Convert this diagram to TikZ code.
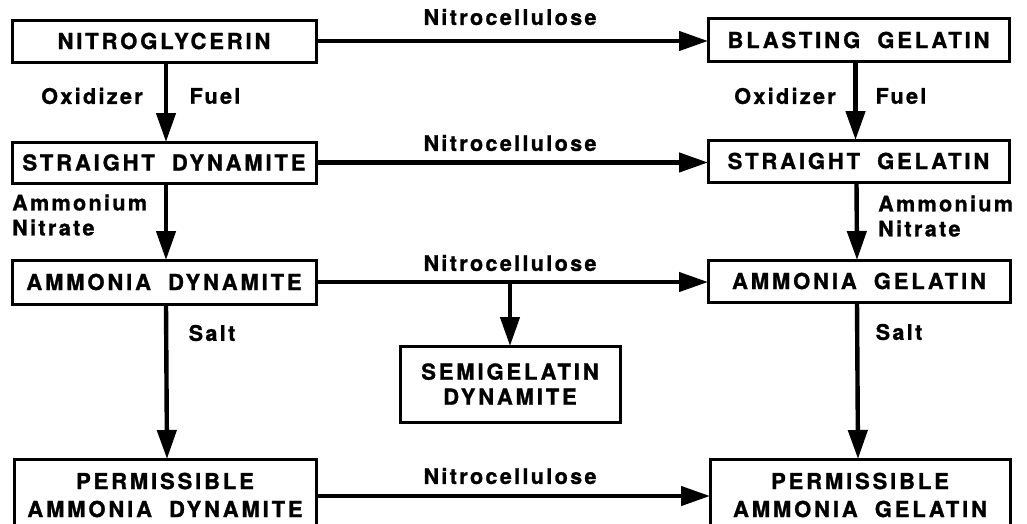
\documentclass[tikz,border=0pt]{standalone}
\usepackage{fontspec}
\setmainfont{TeX Gyre Heros}
\newfontfamily\boxfont{TeX Gyre Heros Bold}[LetterSpace=13, WordSpace=1.9, FakeBold=1.2]
\newfontfamily\labfont{TeX Gyre Heros Bold}[LetterSpace=11, FakeBold=1.2]
\usetikzlibrary{arrows.meta}
\begin{document}
\begin{tikzpicture}[x=1pt,y=-1pt,
  box/.style={draw, line width=3pt, inner sep=0pt, outer sep=0pt, align=center,
    font=\boxfont\fontsize{22}{28}\selectfont},
  lab/.style={inner sep=0pt, font=\labfont\fontsize{21.5}{25}\selectfont},
  arr/.style={line width=4.4pt, -{Triangle[length=29pt,width=19pt]}}]
\useasboundingbox (0,0) rectangle (1027,523);
% left column
\node[box, minimum width=304pt, minimum height=42pt] (n1) at (164,41) {NITROGLYCERIN};
\node[box, minimum width=304pt, minimum height=41pt] (n2) at (164,162.5) {STRAIGHT DYNAMITE};
\node[box, minimum width=304pt, minimum height=44pt] (n3) at (164,282) {AMMONIA DYNAMITE};
\node[box, minimum width=302pt, minimum height=72pt] (n4) at (165,495) {PERMISSIBLE\\AMMONIA DYNAMITE};
% right column
\node[box, minimum width=301pt, minimum height=43pt] (b1) at (858.5,40) {BLASTING GELATIN};
\node[box, minimum width=301pt, minimum height=42pt] (b2) at (858.5,161) {STRAIGHT GELATIN};
\node[box, minimum width=302pt, minimum height=42pt] (b3) at (859,281) {AMMONIA GELATIN};
\node[box, minimum width=300pt, minimum height=72pt] (b4) at (860,495) {PERMISSIBLE\\AMMONIA GELATIN};
% middle
\node[box, minimum width=220pt, minimum height=76pt, font=\boxfont\fontsize{22}{25}\selectfont] (sg) at (510,384) {SEMIGELATIN\\DYNAMITE};
% horizontal connectors
\draw[arr] (n1.east) -- (n1.east -| b1.west);
\draw[arr] (n2.east) -- (n2.east -| b2.west);
\draw[arr] (n3.east) -- (n3.east -| b3.west);
\coordinate (n4r) at ([yshift=-1pt]n4.east);
\draw[arr] (n4r) -- (n4r -| b4.west);
\draw[arr] (n3.east -| sg.north) -- (sg.north);
% vertical connectors
\draw[arr] ([xshift=2pt]n1.south) -- ([xshift=2pt]n2.north);
\draw[arr] ([xshift=2pt]n2.south) -- ([xshift=2pt]n3.north);
\draw[arr] ([xshift=2pt]n3.south) -- ([xshift=2pt]n4.north);
\draw[arr] ([xshift=-3pt]b1.south) -- ([xshift=-3pt]b2.north);
\draw[arr] ([xshift=-2pt]b2.south) -- ([xshift=-2pt]b3.north);
\draw[arr] ([xshift=-2pt]b3.south) -- ([xshift=-2pt]b4.north);
% labels
\node[lab] (t1) at (510,17) {Nitrocellulose};
\node[lab] (t2) at (510,143) {Nitrocellulose};
\node[lab] (t3) at (510,263) {Nitrocellulose};
\node[lab] (t4) at (510,476) {Nitrocellulose};
\node[lab] (ox1) at (92,96) {Oxidizer};
\node[lab] (fu1) at (215,96) {Fuel};
\node[lab] (ox2) at (785,96) {Oxidizer};
\node[lab] (fu2) at (901,96) {Fuel};
\node[lab, anchor=west, align=left, font=\labfont\fontsize{21.5}{25}\selectfont] (am1) at (12,215) {Ammonium\\Nitrate};
\node[lab, anchor=west, align=left, font=\labfont\fontsize{21.5}{25}\selectfont] (am2) at (878,216) {Ammonium\\Nitrate};
\node[lab] (s1) at (212,333) {Salt};
\node[lab] (s2) at (899,332) {Salt};
\end{tikzpicture}
\end{document}
